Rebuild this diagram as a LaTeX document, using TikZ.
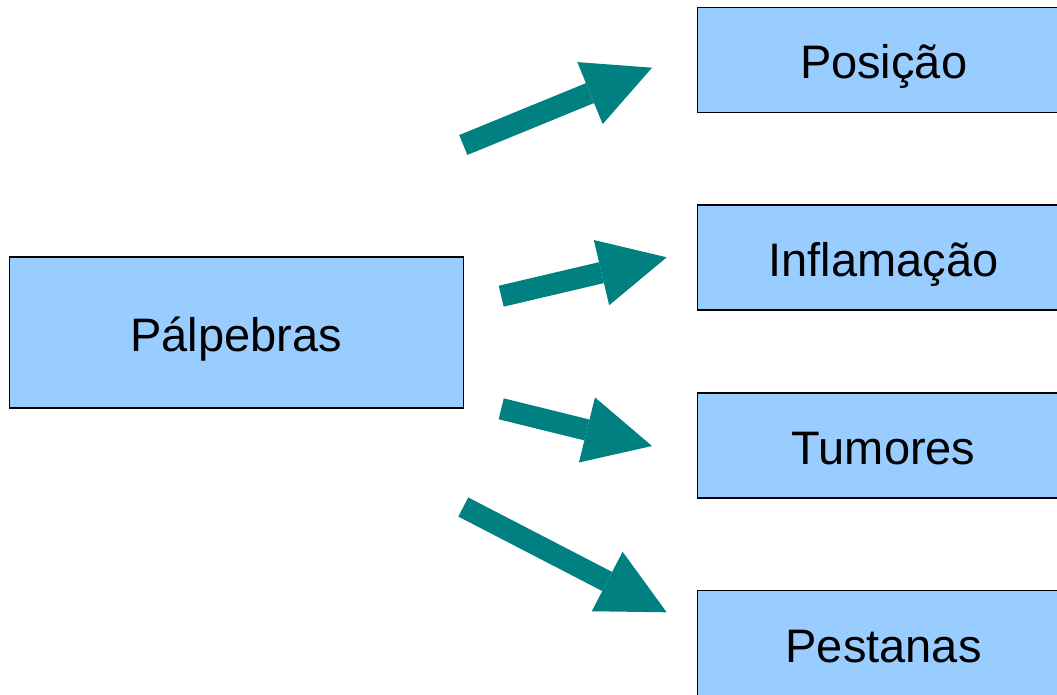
\documentclass[tikz,border=0pt]{standalone}
\usepackage{fontspec}
\setmainfont{Liberation Sans}
\usepackage{tikz}
\usetikzlibrary{positioning}
\usetikzlibrary{arrows.meta}
\definecolor{azzurro}{HTML}{99CCFF}
\definecolor{verde}{HTML}{008080}

\begin{document}
\begin{tikzpicture}[x=1pt,y=-1pt,
scatola/.style={draw,fill=azzurro,line width=1.2pt,inner sep=0pt,text height=38pt,text depth=0pt,font=\fontsize{47}{56}\selectfont},
sinistra/.style={scatola,minimum width=454pt,minimum height=151pt},
destra/.style={scatola,minimum width=372pt,minimum height=105pt,anchor=west},
freccia/.style={draw=verde,line width=21.5pt,-{Triangle[width=67pt,length=67pt,line width=0pt,fill=verde]}}
]
\useasboundingbox (0,0) rectangle (1057,695);
\node[sinistra](palp) at (236.2,332.5){Pálpebras};
%--
\node[destra](pos) at (697,60){Posição};
\node[destra](inf) at (697,257.5){Inflamação};
\node[destra](tum) at (697,445.5){Tumores};
\node[destra](pest) at (697,643){Pestanas};
%--
\coordinate (xa) at (463.3,145); \coordinate (ya) at (652,67.7);
\draw [freccia] (xa) -- (ya);
\coordinate (xb) at (501.2,296.2); \coordinate (yb) at (666.7,257.3);
\draw [freccia] (xb) -- (yb);
\coordinate (xc) at (501.2,408.8); \coordinate (yc) at (652,446);
\draw [freccia] (xc) -- (yc);
\coordinate (xd) at (463.3,507); \coordinate (yd) at (666.7,612.3);
\draw [freccia] (xd) -- (yd);
\end{tikzpicture}
\end{document}
